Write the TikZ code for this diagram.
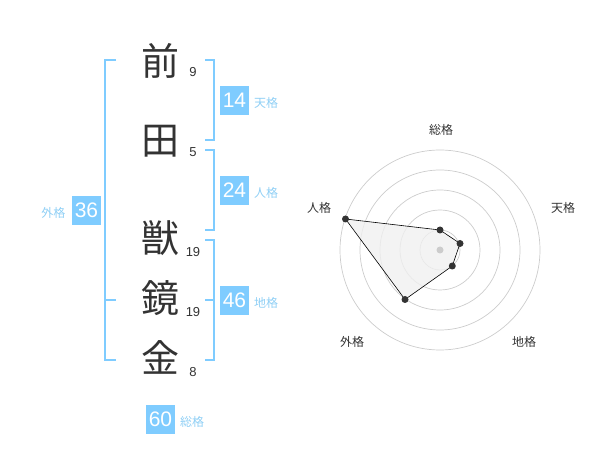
\documentclass[tikz,border=0pt]{standalone}
\usepackage{fontspec}
\setmainfont{Liberation Sans}
\newfontfamily\cjk{Noto Sans CJK JP}
\definecolor{bl}{HTML}{7FCCFF}
\definecolor{bltxt}{HTML}{8FCFF5}
\definecolor{dk}{HTML}{333333}
\definecolor{ring}{HTML}{CCCCCC}
\begin{document}
\begin{tikzpicture}[x=1pt,y=-1pt,
  bigch/.style={inner sep=0pt, text=dk, font=\cjk\fontsize{38}{38}\selectfont},
  strk/.style={inner sep=0pt, text=dk, font=\fontsize{13}{13}\selectfont},
  brk/.style={draw=bl, line width=2pt},
  valbox/.style={fill=bl, text=white, minimum width=29pt, minimum height=29pt, inner sep=0pt, font=\fontsize{21}{21}\selectfont},
  vlab/.style={inner sep=0pt, text=bltxt, font=\cjk\fontsize{12}{12}\selectfont},
  rlab/.style={inner sep=0pt, text=dk, font=\cjk\fontsize{12}{12}\selectfont},
  rdot/.style={circle, fill=dk, inner sep=0pt, minimum size=7pt},
  ringc/.style={draw=ring, line width=0.7pt}]
\useasboundingbox (0,0) rectangle (600,470);
% characters
\node[bigch] (c1) at (160,61) {前};
\node[bigch] (c2) at (160,141) {田};
\node[bigch] (c3) at (160,238) {獣};
\node[bigch] (c4) at (160,298) {鏡};
\node[bigch] (c5) at (160,357) {金};
\node[strk] (n1) at (193,72.5) {9};
\node[strk] (n2) at (193,152) {5};
\node[strk] (n3) at (193,252.5) {19};
\node[strk] (n4) at (193,312.5) {19};
\node[strk] (n5) at (193,372.5) {8};
% brackets
\coordinate (L1) at (116,60); \coordinate (L2) at (116,360); \coordinate (Lm) at (116,300);
\draw[brk] (L1) -- (105,60) -- (105,360) -- (L2);
\draw[brk] (105,300) -- (Lm);
\coordinate (T1) at (205,60); \coordinate (T2) at (205,140);
\draw[brk] (T1) -- (214,60) -- (214,140) -- (T2);
\coordinate (P1) at (205,150); \coordinate (P2) at (205,230);
\draw[brk] (P1) -- (214,150) -- (214,230) -- (P2);
\coordinate (E1) at (205,240); \coordinate (E2) at (205,360); \coordinate (Em) at (205,300);
\draw[brk] (E1) -- (214,240) -- (214,360) -- (E2);
\draw[brk] (Em) -- (214,300);
% value boxes
\node[valbox] (b14) at (234.5,100.5) {14};
\node[vlab] (l14) at (266,103) {天格};
\node[valbox] (b24) at (234.5,190.5) {24};
\node[vlab] (l24) at (266,193) {人格};
\node[valbox] (b46) at (234.5,300.5) {46};
\node[vlab] (l46) at (266,303) {地格};
\node[valbox] (b36) at (86.5,210.5) {36};
\node[vlab] (l36) at (53.5,213) {外格};
\node[valbox] (b60) at (160.5,419) {60};
\node[vlab] (l60) at (192,422) {総格};
% radar
\coordinate (O) at (440,250);
\foreach \r in {20,40,60,80,100} \draw[ringc] (O) circle[radius=\r];
\path (O) ++(0,-20) coordinate (pS) (O) ++(20,-6.5) coordinate (pT)
  (O) ++(12.3,16) coordinate (pC) (O) ++(-35,49.5) coordinate (pG)
  (O) ++(-94.5,-31) coordinate (pJ);
\draw[fill=black!6, fill opacity=0.8, draw=black, line width=0.6pt] (pS) -- (pT) -- (pC) -- (pG) -- (pJ) -- cycle;
\node[circle, fill=ring, inner sep=0pt, minimum size=7pt] (ctr) at (O) {};
\foreach \p in {pS,pT,pC,pG,pJ} \node[rdot] at (\p) {};
\node[rlab] (rS) at (441,130) {総格};
\node[rlab] (rT) at (563,208) {天格};
\node[rlab] (rC) at (524,342) {地格};
\node[rlab] (rG) at (352,342) {外格};
\node[rlab] (rJ) at (319,208) {人格};
\end{tikzpicture}
\end{document}
